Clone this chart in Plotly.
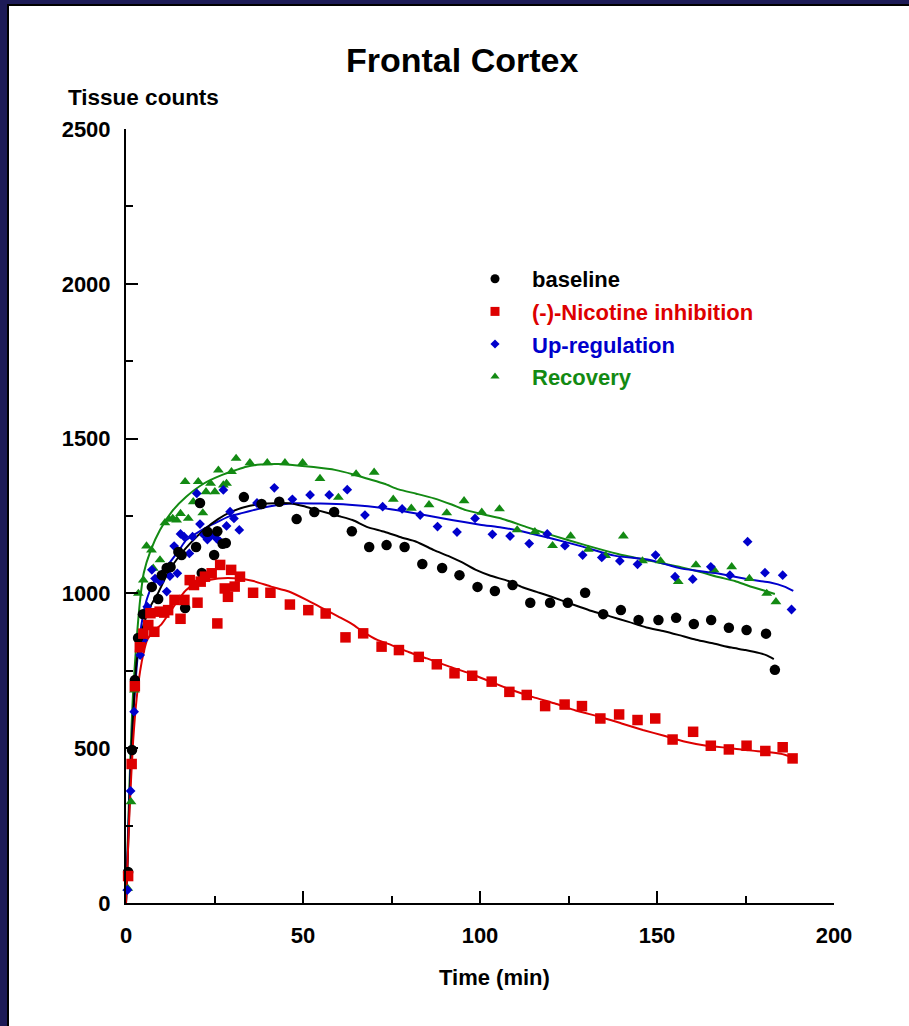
import plotly.graph_objects as go

# ---- measured data (time in min, tissue counts) ----
baseline_t = [0.6, 1.7, 2.5, 3.4, 4.8, 7.3, 9.1, 10.1, 11.5, 12.6, 14.8, 15.7, 16.7, 19.8, 20.9, 21.4,
              23.0, 24.9, 25.8, 27.3, 28.2, 33.3, 38.3, 43.3, 48.2, 53.2, 58.8, 63.8, 68.7, 73.6, 78.7,
              83.7, 89.3, 94.2, 99.3, 104.2, 109.2, 114.2, 119.8, 124.8, 129.7, 134.8, 139.8, 144.8,
              150.4, 155.4, 160.4, 165.3, 170.3, 175.3, 180.8, 183.3]
baseline_v = [100, 494, 720, 856, 933, 1021, 982, 1059, 1082, 1085, 1134, 1124, 953, 1150, 1292, 1066,
              1199, 1124, 1201, 1160, 1163, 1311, 1289, 1296, 1240, 1263, 1263, 1201, 1150, 1156, 1150,
              1095, 1082, 1059, 1021, 1008, 1027, 970, 970, 970, 1002, 933, 946, 914,
              914, 921, 901, 914, 889, 882, 870, 753]

nic_t = [0.6, 1.6, 2.5, 3.9, 4.9, 6.3, 6.9, 8.0, 9.5, 10.8, 11.9, 13.7, 15.4, 16.5, 18.0, 19.2, 20.2,
         21.1, 22.3, 24.2, 25.8, 26.6, 27.9, 28.8, 29.7, 30.7, 32.2, 35.9, 40.8, 46.3, 51.5, 56.4,
         62.0, 67.0, 72.2, 77.1, 82.7, 87.8, 92.8, 97.8, 103.3, 108.3, 113.2, 118.4, 123.9, 128.8,
         134.0, 139.3, 144.5, 149.5, 154.4, 160.2, 165.2, 170.3, 175.3, 180.6, 185.5, 188.3]
nic_v = [87, 449, 700, 826, 870, 898, 936, 876, 941, 938, 946, 979, 918, 979, 1043, 1027, 970,
         1038, 1054, 1065, 903, 1092, 1016, 989, 1076, 1022, 1054, 1002, 1002, 964, 946, 935,
         858, 871, 828, 817, 795, 771, 742, 734, 715, 682, 672, 636, 641, 636,
         596, 609, 591, 596, 528, 553, 508, 496, 508, 491, 503, 467]

up_t = [0.4, 1.3, 2.3, 4.0, 4.9, 6.0, 7.3, 8.2, 9.6, 11.5, 12.4, 13.6, 14.5, 15.4, 16.4, 17.9, 18.8,
        20.0, 20.9, 22.0, 23.0, 23.7, 24.7, 25.6, 26.6, 27.5, 28.4, 29.4, 30.5, 32.0, 37.0, 41.9,
        47.0, 52.0, 57.4, 62.5, 67.5, 72.5, 78.0, 83.1, 88.0, 93.5, 98.6, 103.5, 108.5, 113.9,
        119.0, 124.0, 129.0, 134.4, 139.5, 144.5, 149.6, 155.1, 160.1, 165.2, 170.6, 175.6,
        180.5, 185.5, 188.0]
up_v = [42, 362, 618, 801, 849, 957, 1076, 1048, 1038, 1006, 1056, 1153, 1065, 1192, 1183, 1129, 1183,
        1323, 1224, 1189, 1174, 1183, 1189, 1177, 1167, 1334, 1218, 1264, 1242, 1205, 1292, 1341,
        1304, 1318, 1318, 1335, 1253, 1280, 1273, 1253, 1216, 1198, 1242, 1191, 1185, 1161,
        1192, 1154, 1124, 1116, 1105, 1094, 1124, 1054, 1046, 1086, 1059, 1167,
        1067, 1059, 948]

rec_t = [0.5, 1.4, 2.4, 3.5, 4.9, 5.8, 7.2, 7.7, 9.6, 11.0, 12.2, 13.2, 14.3, 15.4, 16.7, 17.6, 19.0,
         20.4, 21.7, 22.6, 23.9, 25.1, 26.1, 27.5, 28.4, 29.8, 31.1, 35.0, 39.9, 44.9, 49.9, 54.8,
         60.0, 65.0, 70.1, 75.5, 80.6, 85.6, 90.6, 95.5, 100.5, 105.5, 110.5, 115.5, 120.5, 125.6,
         130.6, 135.5, 140.5, 145.9, 151.0, 156.0, 161.0, 166.1, 171.1, 176.1, 181.0, 183.6]
rec_v = [47, 327, 688, 1000, 1043, 1153, 1140, 1081, 1108, 1228, 1239, 1242, 1237, 1258, 1361, 1242, 1296,
         1361, 1260, 1328, 1355, 1328, 1398, 1350, 1355, 1393, 1436, 1422, 1422, 1422, 1422, 1371,
         1310, 1386, 1391, 1304, 1275, 1286, 1260, 1299, 1262, 1273, 1205, 1199, 1154, 1185,
         1142, 1122, 1185, 1105, 1105, 1038, 1092, 1076, 1086, 1048, 1000, 973]

# ---- fitted curves ----
baseline_fit_t = [0, 0.5, 1, 1.5, 2, 3, 5, 7, 9, 12, 15, 18, 22, 26, 30, 35, 40, 46, 50, 54, 60, 64,
                  68, 73, 78, 82, 87, 91, 95, 99, 103, 108, 112, 116, 120, 126, 131, 137, 142, 147,
                  152, 156, 161, 166, 171, 175, 179, 181, 183]
baseline_fit_v = [0, 150, 330, 480, 600, 780, 900, 960, 1000, 1070, 1120, 1160, 1205, 1240, 1265, 1283,
                  1290, 1291, 1282, 1269, 1250, 1237, 1215, 1199, 1180, 1167, 1140, 1121, 1100, 1075,
                  1057, 1040, 1020, 1005, 990, 965, 945, 925, 908, 890, 878, 866, 850, 838, 825, 817,
                  807, 800, 788]

nic_fit_t = [0, 0.5, 1, 2, 3, 4, 5, 6, 8, 10, 13, 17, 21, 26, 32, 36, 41, 46, 51, 55, 60, 64, 67, 71,
             75, 80, 85, 91, 97, 103, 109, 115, 121, 127, 134, 140, 146, 152, 158, 164, 171, 176,
             181, 185, 188]
nic_fit_v = [0, 150, 300, 520, 660, 750, 810, 850, 880, 900, 950, 1011, 1035, 1048, 1048, 1040, 1022,
             1006, 979, 955, 925, 900, 876, 850, 833, 810, 790, 765, 742, 715, 688, 665, 645, 622,
             601, 580, 559, 540, 521, 508, 500, 493, 488, 482, 472]

up_fit_t = [0, 0.5, 1, 1.5, 2, 3, 4, 5, 6, 8, 10, 12, 15, 17, 20, 23, 26, 29, 33, 36, 40, 44, 47, 55,
            63, 73, 82, 92, 100, 106, 110, 120, 129, 138, 148, 157, 167, 176, 182, 186, 188.5]
up_fit_v = [0, 180, 350, 490, 600, 760, 870, 940, 985, 1040, 1070, 1095, 1140, 1172, 1195, 1215, 1232,
            1248, 1260, 1269, 1280, 1287, 1291, 1290, 1286, 1275, 1258, 1237, 1222, 1213, 1205, 1178,
            1151, 1122, 1108, 1080, 1065, 1045, 1035, 1022, 1008]

rec_fit_t = [0, 0.5, 1, 1.5, 2, 3, 4, 5, 7, 9.6, 13, 17, 22, 27, 31, 34, 38, 43, 47, 53, 59, 64, 68,
             73, 77, 82, 87, 92, 96, 101, 106, 113, 120, 130, 139, 148, 157, 162, 167, 172, 176,
             180, 183.3]
rec_fit_v = [0, 200, 390, 550, 680, 850, 980, 1065, 1140, 1205, 1265, 1312, 1355, 1382, 1398, 1409,
             1416, 1418, 1415, 1408, 1399, 1385, 1371, 1354, 1336, 1322, 1307, 1287, 1269, 1255, 1242,
             1215, 1189, 1155, 1127, 1105, 1084, 1070, 1054, 1040, 1024, 1010, 998]

BLACK = "#000000"
RED = "#dd0000"
BLUE = "#0000cc"
GREEN = "#138a13"
FONT = "Liberation Sans"

series = [
    # name, t, v, fit_t, fit_v, color, symbol, size, legend size, rank
    ("Recovery", rec_t, rec_v, rec_fit_t, rec_fit_v, GREEN, "triangle-up", 9.5, 8, 4),
    ("Up-regulation", up_t, up_v, up_fit_t, up_fit_v, BLUE, "diamond", 7.5, 7, 3),
    ("baseline", baseline_t, baseline_v, baseline_fit_t, baseline_fit_v, BLACK, "circle", 10.5, 9, 1),
    ("(-)-Nicotine inhibition", nic_t, nic_v, nic_fit_t, nic_fit_v, RED, "square", 10.5, 9, 2),
]

fig = go.Figure()

# fitted lines underneath
for name, t, v, ft, fv, col, sym, sz, lsz, rank in series:
    fig.add_trace(go.Scatter(x=ft, y=fv, mode="lines",
                             line=dict(color=col, width=2, shape="spline", smoothing=0.6),
                             showlegend=False, hoverinfo="skip", cliponaxis=False))

# data points
for name, t, v, ft, fv, col, sym, sz, lsz, rank in series:
    fig.add_trace(go.Scatter(
        x=t, y=v, mode="markers",
        marker=dict(symbol=sym, color=col, size=sz, line=dict(width=0)),
        showlegend=False, cliponaxis=False))

# small legend-only symbols (the original key uses smaller markers)
for name, t, v, ft, fv, col, sym, sz, lsz, rank in series:
    fig.add_trace(go.Scatter(
        x=[None], y=[None], mode="markers",
        marker=dict(symbol=sym, color=col, size=lsz, line=dict(width=0)),
        name=f'<span style="color:{col}">{name}</span>',
        legendgroup=name, legendrank=rank))

W, H = 909, 1026
L, R, T, B = 126, 75, 129, 123
pw, ph = W - L - R, H - T - B


def px(x):
    return (x - L) / pw


def py(y):
    return (H - B - y) / ph


fig.update_layout(
    width=W, height=H,
    margin=dict(l=L, r=R, t=T, b=B),
    paper_bgcolor="#1d1b57",
    plot_bgcolor="white",
    font=dict(family=FONT, size=22, color="black", weight="bold"),
    showlegend=True,
    legend=dict(x=px(458), y=py(258), xanchor="left", yanchor="top",
                bgcolor="rgba(0,0,0,0)", font=dict(size=22, weight="bold"),
                tracegroupgap=1, itemsizing="trace", itemwidth=64),
    shapes=[dict(type="rect", xref="paper", yref="paper",
                 x0=px(8), x1=px(940), y0=py(5), y1=py(1060),
                 fillcolor="white", line=dict(color="black", width=2), layer="below")],
    annotations=[
        dict(text="<b>Frontal Cortex</b>", x=px(462), y=py(60), xref="paper", yref="paper",
             showarrow=False, font=dict(size=34, family=FONT), xanchor="center", yanchor="middle"),
        dict(text="<b>Tissue counts</b>", x=px(143), y=py(97), xref="paper", yref="paper",
             showarrow=False, font=dict(size=22.5, family=FONT), xanchor="center", yanchor="middle"),
        dict(text="<b>Time (min)</b>", x=px(494), y=py(977), xref="paper", yref="paper",
             showarrow=False, font=dict(size=22, family=FONT), xanchor="center", yanchor="middle"),
    ],
)

fig.update_xaxes(range=[0, 200], tickvals=[0, 50, 100, 150, 200], showline=True, linecolor="black",
                 linewidth=2, ticks="inside", ticklen=12, tickwidth=1.5, tickcolor="black",
                 minor=dict(ticks="inside", ticklen=7, tickwidth=1.5, tickcolor="black", dtick=25),
                 showgrid=False, zeroline=False, ticklabelstandoff=12)
fig.update_yaxes(range=[0, 2500], tickvals=[0, 500, 1000, 1500, 2000, 2500], showline=True,
                 linecolor="black", linewidth=2, ticks="inside", ticklen=12, tickwidth=1.5,
                 tickcolor="black",
                 minor=dict(ticks="inside", ticklen=7, tickwidth=1.5, tickcolor="black", dtick=250),
                 showgrid=False, zeroline=False, ticklabelstandoff=9)

fig.write_html("out.html", config={"displayModeBar": False},
               post_script="document.body.style.margin='0';document.body.style.background='#1d1b57';")
